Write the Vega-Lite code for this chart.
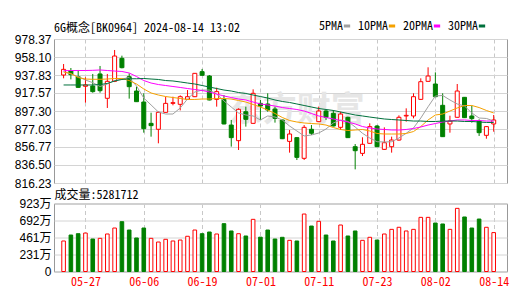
{
  "$schema": "https://vega.github.io/schema/vega-lite/v6.json",
  "autosize": {"type": "pad"},
  "padding": {"left": 13, "top": 20, "right": 5, "bottom": 5},
  "background": "white",
  "bounds": "flush",
  "spacing": 20.5,
  "config": {
    "view": {"stroke": "#999999", "strokeWidth": 1},
    "font": "Liberation Sans",
    "axis": {"title": null, "domain": false, "ticks": false, "labelOverlap": false}
  },
  "data": {"values": [
    {"i":0,"d":"05-22","o":937.8,"h":950.2,"l":934.1,"c":944.2,"v":414,"vd":"up","ma5":941.6,"ma10":941.2,"ma20":942.7,"ma30":926.6},
    {"i":1,"d":"05-23","o":942.7,"h":945.7,"l":932.9,"c":938.2,"v":495,"vd":"dn","ma5":939.0,"ma10":939.5,"ma20":942.9,"ma30":926.6},
    {"i":2,"d":"05-24","o":935.9,"h":943.5,"l":923.6,"c":923.9,"v":513,"vd":"dn","ma5":936.1,"ma10":935.0,"ma20":942.9,"ma30":926.6},
    {"i":3,"d":"05-27","o":925.1,"h":935.2,"l":906.7,"c":926.6,"v":522,"vd":"up","ma5":932.2,"ma10":933.3,"ma20":942.9,"ma30":926.6},
    {"i":4,"d":"05-28","o":925.4,"h":939.0,"l":917.9,"c":919.1,"v":441,"vd":"dn","ma5":929.2,"ma10":933.0,"ma20":943.1,"ma30":926.6},
    {"i":5,"d":"05-29","o":939.0,"h":948.0,"l":917.9,"c":920.2,"v":450,"vd":"up","ma5":924.9,"ma10":933.0,"ma20":943.5,"ma30":927.1},
    {"i":6,"d":"05-30","o":911.6,"h":939.0,"l":900.7,"c":930.7,"v":509,"vd":"up","ma5":927.7,"ma10":933.3,"ma20":942.9,"ma30":928.3},
    {"i":7,"d":"05-31","o":930.7,"h":966.0,"l":929.9,"c":959.2,"v":590,"vd":"up","ma5":931.6,"ma10":933.9,"ma20":942.3,"ma30":931.1},
    {"i":8,"d":"06-03","o":956.6,"h":959.6,"l":945.3,"c":946.1,"v":676,"vd":"dn","ma5":933.3,"ma10":933.9,"ma20":941.8,"ma30":932.8},
    {"i":9,"d":"06-04","o":935.9,"h":939.7,"l":911.2,"c":924.7,"v":563,"vd":"dn","ma5":935.0,"ma10":931.6,"ma20":940.1,"ma30":933.6},
    {"i":10,"d":"06-05","o":919.8,"h":924.7,"l":907.8,"c":907.8,"v":455,"vd":"dn","ma5":925.5,"ma10":927.7,"ma20":936.1,"ma30":933.6},
    {"i":11,"d":"06-06","o":907.4,"h":917.2,"l":872.9,"c":877.4,"v":590,"vd":"dn","ma5":911.9,"ma10":922.1,"ma20":931.6,"ma30":933.9},
    {"i":12,"d":"06-07","o":883.4,"h":895.4,"l":868.4,"c":880.8,"v":450,"vd":"up","ma5":904.1,"ma10":917.6,"ma20":928.8,"ma30":933.3},
    {"i":13,"d":"06-11","o":876.7,"h":896.6,"l":860.9,"c":895.8,"v":400,"vd":"up","ma5":896.2,"ma10":915.3,"ma20":927.1,"ma30":932.8},
    {"i":14,"d":"06-12","o":895.8,"h":913.4,"l":895.4,"c":905.9,"v":437,"vd":"up","ma5":893.9,"ma10":913.6,"ma20":926.0,"ma30":931.6},
    {"i":15,"d":"06-13","o":905.9,"h":913.4,"l":903.7,"c":906.7,"v":414,"vd":"up","ma5":893.9,"ma10":912.5,"ma20":924.9,"ma30":931.1},
    {"i":16,"d":"06-14","o":904.8,"h":914.9,"l":898.0,"c":913.4,"v":427,"vd":"up","ma5":900.7,"ma10":911.4,"ma20":923.8,"ma30":930.0},
    {"i":17,"d":"06-17","o":910.4,"h":920.9,"l":909.7,"c":913.4,"v":478,"vd":"up","ma5":910.8,"ma10":910.3,"ma20":922.6,"ma30":928.8},
    {"i":18,"d":"06-18","o":913.4,"h":940.0,"l":913.0,"c":939.7,"v":563,"vd":"up","ma5":918.7,"ma10":910.3,"ma20":921.5,"ma30":927.7},
    {"i":19,"d":"06-19","o":941.6,"h":944.6,"l":937.1,"c":937.5,"v":513,"vd":"dn","ma5":920.9,"ma10":910.8,"ma20":920.4,"ma30":926.0},
    {"i":20,"d":"06-20","o":936.7,"h":937.8,"l":909.3,"c":909.7,"v":536,"vd":"dn","ma5":920.9,"ma10":910.8,"ma20":918.7,"ma30":924.3},
    {"i":21,"d":"06-21","o":910.4,"h":923.6,"l":902.2,"c":919.1,"v":509,"vd":"up","ma5":916.4,"ma10":911.4,"ma20":916.4,"ma30":922.6},
    {"i":22,"d":"06-24","o":910.4,"h":915.3,"l":882.3,"c":882.7,"v":649,"vd":"dn","ma5":908.6,"ma10":911.4,"ma20":914.2,"ma30":920.9},
    {"i":23,"d":"06-25","o":881.5,"h":887.2,"l":857.2,"c":867.3,"v":550,"vd":"dn","ma5":901.8,"ma10":910.8,"ma20":912.5,"ma30":919.8},
    {"i":24,"d":"06-26","o":863.9,"h":900.3,"l":853.4,"c":899.2,"v":513,"vd":"up","ma5":895.1,"ma10":909.1,"ma20":910.8,"ma30":918.1},
    {"i":25,"d":"06-27","o":896.5,"h":902.2,"l":879.7,"c":887.9,"v":482,"vd":"dn","ma5":892.8,"ma10":907.4,"ma20":909.7,"ma30":917.0},
    {"i":26,"d":"06-28","o":883.4,"h":921.7,"l":883.0,"c":917.2,"v":708,"vd":"up","ma5":891.7,"ma10":904.6,"ma20":907.4,"ma30":915.3},
    {"i":27,"d":"07-01","o":905.9,"h":909.7,"l":887.2,"c":902.9,"v":466,"vd":"dn","ma5":887.2,"ma10":901.8,"ma20":905.2,"ma30":913.6},
    {"i":28,"d":"07-02","o":905.2,"h":917.2,"l":896.5,"c":898.4,"v":563,"vd":"dn","ma5":891.7,"ma10":898.4,"ma20":904.1,"ma30":911.9},
    {"i":29,"d":"07-03","o":899.5,"h":902.2,"l":884.2,"c":889.0,"v":441,"vd":"dn","ma5":890.5,"ma10":894.5,"ma20":902.9,"ma30":909.7},
    {"i":30,"d":"07-04","o":887.2,"h":887.6,"l":865.7,"c":866.1,"v":464,"vd":"dn","ma5":887.2,"ma10":890.0,"ma20":901.2,"ma30":908.0},
    {"i":31,"d":"07-05","o":863.1,"h":875.9,"l":850.4,"c":871.4,"v":423,"vd":"up","ma5":880.4,"ma10":886.6,"ma20":900.1,"ma30":906.9},
    {"i":32,"d":"07-08","o":867.3,"h":867.7,"l":842.1,"c":845.1,"v":414,"vd":"dn","ma5":874.8,"ma10":884.9,"ma20":899.0,"ma30":905.2},
    {"i":33,"d":"07-09","o":844.0,"h":881.5,"l":842.1,"c":878.9,"v":780,"vd":"up","ma5":869.2,"ma10":883.8,"ma20":897.3,"ma30":903.5},
    {"i":34,"d":"07-10","o":876.7,"h":881.5,"l":870.3,"c":872.2,"v":617,"vd":"dn","ma5":870.3,"ma10":883.2,"ma20":894.5,"ma30":901.8},
    {"i":35,"d":"07-11","o":885.3,"h":902.2,"l":884.9,"c":897.3,"v":681,"vd":"up","ma5":872.5,"ma10":882.7,"ma20":891.7,"ma30":900.1},
    {"i":36,"d":"07-12","o":897.3,"h":898.4,"l":887.2,"c":890.2,"v":495,"vd":"dn","ma5":877.0,"ma10":881.5,"ma20":890.0,"ma30":899.0},
    {"i":37,"d":"07-15","o":894.7,"h":898.4,"l":880.0,"c":880.4,"v":414,"vd":"dn","ma5":883.8,"ma10":878.7,"ma20":888.3,"ma30":897.9},
    {"i":38,"d":"07-16","o":878.9,"h":896.5,"l":875.9,"c":893.9,"v":631,"vd":"up","ma5":887.2,"ma10":876.5,"ma20":886.6,"ma30":896.2},
    {"i":39,"d":"07-17","o":890.2,"h":890.9,"l":866.9,"c":867.3,"v":482,"vd":"dn","ma5":885.5,"ma10":875.3,"ma20":884.9,"ma30":894.5},
    {"i":40,"d":"07-18","o":857.1,"h":860.1,"l":831.6,"c":852.6,"v":550,"vd":"dn","ma5":879.3,"ma10":875.9,"ma20":882.7,"ma30":892.8},
    {"i":41,"d":"07-19","o":849.6,"h":867.7,"l":846.6,"c":859.8,"v":423,"vd":"up","ma5":872.2,"ma10":876.5,"ma20":879.8,"ma30":891.7},
    {"i":42,"d":"07-22","o":860.9,"h":883.4,"l":860.5,"c":879.7,"v":464,"vd":"up","ma5":866.9,"ma10":874.8,"ma20":878.2,"ma30":890.5},
    {"i":43,"d":"07-23","o":880.4,"h":881.5,"l":856.7,"c":857.1,"v":427,"vd":"dn","ma5":862.7,"ma10":872.0,"ma20":877.0,"ma30":889.4},
    {"i":44,"d":"07-24","o":854.1,"h":878.9,"l":853.4,"c":861.6,"v":509,"vd":"up","ma5":862.4,"ma10":871.4,"ma20":876.5,"ma30":888.3},
    {"i":45,"d":"07-25","o":857.1,"h":868.4,"l":850.4,"c":864.6,"v":572,"vd":"up","ma5":862.7,"ma10":871.4,"ma20":875.9,"ma30":887.7},
    {"i":46,"d":"07-26","o":864.6,"h":892.4,"l":863.9,"c":890.2,"v":600,"vd":"up","ma5":866.9,"ma10":871.4,"ma20":875.9,"ma30":887.2},
    {"i":47,"d":"07-29","o":891.7,"h":900.3,"l":885.3,"c":892.4,"v":550,"vd":"up","ma5":872.2,"ma10":872.0,"ma20":876.5,"ma30":886.6},
    {"i":48,"d":"07-30","o":891.7,"h":917.2,"l":889.0,"c":913.4,"v":572,"vd":"up","ma5":878.2,"ma10":874.2,"ma20":877.6,"ma30":886.0},
    {"i":49,"d":"07-31","o":910.4,"h":934.1,"l":909.7,"c":930.3,"v":735,"vd":"up","ma5":889.4,"ma10":879.8,"ma20":879.3,"ma30":886.0},
    {"i":50,"d":"08-01","o":930.7,"h":946.5,"l":930.3,"c":936.7,"v":735,"vd":"up","ma5":902.1,"ma10":887.2,"ma20":881.5,"ma30":885.5},
    {"i":51,"d":"08-02","o":927.7,"h":940.8,"l":913.0,"c":913.4,"v":658,"vd":"dn","ma5":914.2,"ma10":892.8,"ma20":883.2,"ma30":885.5},
    {"i":52,"d":"08-05","o":903.7,"h":917.2,"l":868.0,"c":868.4,"v":645,"vd":"dn","ma5":914.8,"ma10":893.9,"ma20":884.9,"ma30":886.0},
    {"i":53,"d":"08-06","o":882.7,"h":892.0,"l":872.9,"c":886.0,"v":572,"vd":"up","ma5":909.7,"ma10":897.3,"ma20":886.0,"ma30":886.0},
    {"i":54,"d":"08-07","o":890.2,"h":927.7,"l":889.8,"c":919.8,"v":857,"vd":"up","ma5":905.2,"ma10":900.7,"ma20":887.2,"ma30":886.0},
    {"i":55,"d":"08-08","o":912.7,"h":913.0,"l":889.4,"c":889.8,"v":740,"vd":"dn","ma5":902.9,"ma10":903.5,"ma20":887.2,"ma30":885.5},
    {"i":56,"d":"08-09","o":891.7,"h":903.3,"l":884.2,"c":888.7,"v":590,"vd":"dn","ma5":895.1,"ma10":903.5,"ma20":886.6,"ma30":885.5},
    {"i":57,"d":"08-12","o":886.0,"h":887.9,"l":869.2,"c":872.9,"v":712,"vd":"dn","ma5":889.4,"ma10":901.2,"ma20":886.6,"ma30":884.9},
    {"i":58,"d":"08-13","o":869.9,"h":880.4,"l":866.1,"c":879.7,"v":600,"vd":"up","ma5":888.9,"ma10":897.9,"ma20":886.0,"ma30":884.4},
    {"i":59,"d":"08-14","o":882.7,"h":892.8,"l":874.0,"c":887.2,"v":528,"vd":"up","ma5":886.0,"ma10":895.1,"ma20":886.0,"ma30":884.4}
  ]},
  "vconcat": [
    {
      "width": 453,
      "height": 144,
      "title": {"text": "6G概念[BK0964] 2024-08-14 13:02", "anchor": "start", "frame": "group", "font": "'Noto Sans Mono CJK SC', 'Liberation Mono', monospace", "fontSize": 12, "fontWeight": "normal", "color": "#000000", "offset": -2},
      "layer": [
        {
          "data": {"values": [{"t": "东方财富"}]},
          "mark": {"type": "text", "fontSize": 34, "fontWeight": "bold", "font": "Noto Sans CJK SC", "color": "#e6e6e6"},
          "encoding": {
            "x": {"datum": 32, "type": "quantitative", "scale": {"domain": [-0.63, 60.14], "nice": false, "zero": false},
                  "axis": {"values": [3, 11, 19, 27, 35, 43, 51, 59], "tickCount": 20, "labels": false, "grid": true, "gridDash": [4, 3], "gridColor": "#c8c8c8",
                           "title": "成交量:5281712", "titleAnchor": "start", "titleAlign": "left", "titleBaseline": "middle", "titleX": 0, "titleY": 11,
                           "titleFont": "'Noto Sans Mono CJK SC', 'Liberation Mono', monospace", "titleFontSize": 12, "titleFontWeight": "normal", "titleColor": "#000000"}},
            "y": {"datum": 897, "type": "quantitative", "scale": {"domain": [816.23, 978.37], "nice": false, "zero": false},
                  "axis": {"values": [816.23, 836.5, 856.77, 877.03, 897.3, 917.57, 937.83, 958.1, 978.37], "tickCount": 20, "format": ".2f", "grid": true, "gridColor": "#d4d4d4", "labelPadding": 3, "labelFontSize": 12, "labelColor": "#000000", "labelFont": "Liberation Sans"}},
            "text": {"field": "t"}
          }
        },
        {
          "mark": {"type": "rule", "strokeWidth": 1},
          "encoding": {
            "x": {"field": "i", "type": "quantitative"},
            "y": {"field": "l", "type": "quantitative"},
            "y2": {"field": "h"},
            "stroke": {"condition": {"test": "datum.c >= datum.o", "value": "#ff0000"}, "value": "#008000"}
          }
        },
        {
          "mark": {"type": "bar", "size": 4, "strokeWidth": 1, "orient": "vertical"},
          "encoding": {
            "x": {"field": "i", "type": "quantitative"},
            "y": {"field": "o", "type": "quantitative"},
            "y2": {"field": "c"},
            "fill": {"condition": {"test": "datum.c >= datum.o", "value": "#ffffff"}, "value": "#008000"},
            "stroke": {"condition": {"test": "datum.c >= datum.o", "value": "#ff0000"}, "value": "#008000"}
          }
        },
        {
          "transform": [{"fold": ["ma5", "ma10", "ma20", "ma30"], "as": ["k", "val"]}],
          "mark": {"type": "line", "strokeWidth": 1},
          "encoding": {
            "x": {"field": "i", "type": "quantitative"},
            "y": {"field": "val", "type": "quantitative"},
            "color": {"field": "k", "type": "nominal",
              "scale": {"domain": ["ma5", "ma10", "ma20", "ma30"], "range": ["#a0a0a0", "#f5a100", "#ff00ff", "#00703c"]},
              "legend": {"title": null, "orient": "none", "legendX": 287, "legendY": -19, "direction": "horizontal",
                "symbolType": "stroke", "symbolStrokeWidth": 3, "symbolSize": 40,
                "labelFont": "'Noto Sans Mono CJK SC', 'Liberation Mono', monospace", "labelFontSize": 12, "labelColor": "#000000",
                "labelAlign": "right", "labelOffset": -10, "columnPadding": 0, "padding": 0,
                "labelExpr": "datum.value == 'ma5' ? '5PMA' : datum.value == 'ma10' ? '10PMA' : datum.value == 'ma20' ? '20PMA' : '30PMA'"}}
          }
        }
      ]
    },
    {
      "width": 453,
      "height": 68,
      "mark": {"type": "bar", "size": 3.6, "strokeWidth": 1, "orient": "vertical"},
      "encoding": {
        "x": {"field": "i", "type": "quantitative", "scale": {"domain": [-0.63, 60.14], "nice": false, "zero": false},
              "axis": {"values": [3, 11, 19, 27, 35, 43, 51, 59], "tickCount": 20, "grid": true, "gridDash": [4, 3], "gridColor": "#c8c8c8",
                       "labelExpr": "['05-27','06-06','06-19','07-01','07-11','07-23','08-02','08-14'][(datum.value - 3) / 8]",
                       "labelColor": "#ff0000", "labelFont": "'Noto Sans Mono CJK SC', 'Liberation Mono', monospace", "labelFontSize": 12, "labelPadding": 5}},
        "y": {"field": "v", "type": "quantitative", "scale": {"domain": [0, 922.9], "nice": false},
              "axis": {"values": [0, 230.725, 461.45, 692.175, 922.9], "tickCount": 20, "labelExpr": "datum.value == 0 ? '0' : format(datum.value, '.0f') + '万'",
                       "grid": true, "gridColor": "#d4d4d4", "labelPadding": 3, "labelFontSize": 12, "labelColor": "#000000", "labelFont": "'Liberation Sans', 'Noto Sans CJK SC'"}},
        "fill": {"condition": {"test": "datum.vd == 'up'", "value": "#ffffff"}, "value": "#008000"},
        "stroke": {"condition": {"test": "datum.vd == 'up'", "value": "#ff0000"}, "value": "#008000"}
      }
    }
  ]
}
